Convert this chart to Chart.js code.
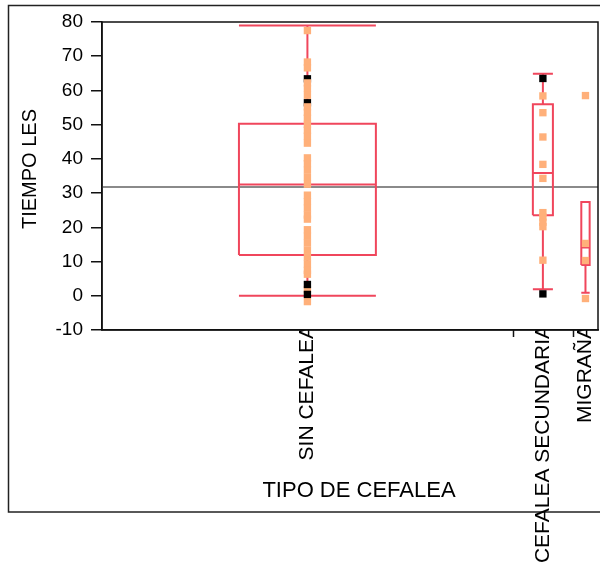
<!DOCTYPE html>
<html>
<head>
<meta charset="utf-8">
<script src="https://cdn.jsdelivr.net/npm/chart.js@4.4.1/dist/chart.umd.min.js"></script>
<style>
  html, body { margin: 0; padding: 0; background: #fff; }
  #wrap { width: 600px; height: 568px; }
</style>
</head>
<body>
<div id="wrap"><canvas id="chart"></canvas></div>
<script>
// groups along x, width of each group is proportional to its size
const categories = ['SIN CEFALEA', 'CEFALEA SECUNDARIA', 'MIGRAÑA'];
const groupSizes = [82, 12, 5];

// box plot summaries per group
const q1 = [11.9, 23.5, 9.0];
const medians = [32.5, 35.9, 14.1];
const q3 = [50.3, 56.0, 27.4];
const whiskerLow = [0, 1.9, 0.9];
const whiskerHigh = [79.0, 64.9, 27.4];
const grandMean = 31.8;

// observed points (orange) and highlighted rows (black)
const pointsSin = [77.5, 68.3, 66.6, 62.2, 60.6, 58.6, 55.2, 53.6, 51.9, 50.1, 48.4, 46.6, 44.6,
                   40.3, 38.6, 36.7, 34.6, 32.6, 29.4, 27.5, 25.6, 23.6, 22.4,
                   19.3, 17.4, 15.4, 13.3, 11.3, 9.3, 7.4, 6.3, 1.8, -1.7];
const markedSin = [63.4, 56.4, 3.3, 0.4];
const pointsSec = [58.4, 53.5, 46.4, 38.4, 34.3, 24.3, 23.0, 21.5, 20.2, 10.4];
const markedSec = [63.5, 0.55];
const pointsMig = [58.5, 15.3, 10.3, -0.8];
const markedMig = [];

const yMin = -10, yMax = 80, yStep = 10;
const xTitle = 'TIPO DE CEFALEA';
const yTitle = 'TIEMPO LES';

const RED = '#F0465C';
const ORANGE = '#FFB07A';
const FONT = '"Liberation Sans", Arial, sans-serif';

// group layout on a linear x axis
const total = groupSizes.reduce((a, b) => a + b, 0);
const starts = [];
const centers = [];
let acc = 0;
groupSizes.forEach(n => { starts.push(acc); centers.push(acc + n / 2); acc += n; });

function boxPath(i) {
  const c = centers[i], h = groupSizes[i] / 6;
  const l = c - h, r = c + h;
  const gap = { x: c, y: null };
  return [
    { x: l, y: q1[i] }, { x: r, y: q1[i] }, { x: r, y: q3[i] }, { x: l, y: q3[i] }, { x: l, y: q1[i] }, gap,
    { x: l, y: medians[i] }, { x: r, y: medians[i] }, gap,
    { x: c, y: q3[i] }, { x: c, y: whiskerHigh[i] }, gap,
    { x: l, y: whiskerHigh[i] }, { x: r, y: whiskerHigh[i] }, gap,
    { x: c, y: q1[i] }, { x: c, y: whiskerLow[i] }, gap,
    { x: l, y: whiskerLow[i] }, { x: r, y: whiskerLow[i] }
  ];
}

const toXY = (vals, i) => vals.map(v => ({ x: centers[i], y: v }));
const orangePts = [pointsSin, pointsSec, pointsMig].flatMap(toXY);
const blackPts = [markedSin, markedSec, markedMig].flatMap(toXY);
// rows near zero were plotted after the orange ones, the others before
const blackFront = blackPts.filter(p => p.y < 5);
const blackBack = blackPts.filter(p => p.y >= 5);

const pointStyle = { pointStyle: 'rect', pointRadius: 5.2, pointBorderWidth: 0, showLine: false };

const datasets = [
  { data: blackFront, backgroundColor: '#000', ...pointStyle },
  { data: orangePts, backgroundColor: ORANGE, ...pointStyle },
  { data: blackBack, backgroundColor: '#000', ...pointStyle },
  ...categories.map((_, i) => ({
    data: boxPath(i), showLine: true, borderColor: RED, borderWidth: 2,
    pointRadius: 0, spanGaps: false
  })),
  { data: [{ x: 0, y: grandMean }, { x: total, y: grandMean }], showLine: true,
    borderColor: '#8a8a8a', borderWidth: 2, pointRadius: 0 }
];

const framePlugin = {
  id: 'frames',
  beforeDraw(chart) {
    const ctx = chart.ctx;
    ctx.save();
    ctx.strokeStyle = '#222';
    ctx.lineWidth = 1.5;
    ctx.strokeRect(8.5, 5.5, 640, 506.5);
    ctx.restore();
  },
  afterDraw(chart) {
    const { ctx, chartArea: a, scales: { x } } = chart;
    ctx.save();
    ctx.strokeStyle = '#111';
    ctx.lineWidth = 1.5;
    ctx.strokeRect(a.left, a.top, a.right - a.left, a.bottom - a.top);
    // group separators under the axis
    starts.slice(1).forEach(s => {
      const px = Math.round(x.getPixelForValue(s)) + 0.5;
      ctx.beginPath();
      ctx.moveTo(px, a.bottom);
      ctx.lineTo(px, a.bottom + 7);
      ctx.stroke();
    });
    // axis titles
    ctx.fillStyle = '#000';
    ctx.textAlign = 'center';
    ctx.textBaseline = 'middle';
    ctx.font = '22px ' + FONT;
    ctx.fillText(xTitle, 359, 491);
    ctx.translate(30, 169);
    ctx.rotate(-Math.PI / 2);
    ctx.font = '20px ' + FONT;
    ctx.fillText(yTitle, 0, 0);
    ctx.restore();
  }
};

new Chart(document.getElementById('chart'), {
  type: 'scatter',
  data: { datasets },
  options: {
    responsive: true,
    maintainAspectRatio: false,
    animation: false,
    layout: { autoPadding: false, padding: { top: 22, right: 2, left: 10, bottom: 0 } },
    plugins: { legend: { display: false }, tooltip: { enabled: false } },
    scales: {
      x: {
        type: 'linear',
        min: 0,
        max: total,
        afterBuildTicks: s => { s.ticks = centers.map(v => ({ value: v })); },
        afterFit: s => { s.height = 238; s.paddingLeft = 0; s.paddingRight = 0; },
        grid: { display: false, drawTicks: false },
        border: { display: true, color: '#111', width: 1.5 },
        ticks: {
          autoSkip: false,
          minRotation: 90,
          maxRotation: 90,
          padding: -5,
          color: '#000',
          font: { family: FONT, size: 21 },
          callback: (v, i) => categories[i]
        }
      },
      y: {
        min: yMin,
        max: yMax,
        afterFit: s => { s.width = 92; },
        grid: { drawOnChartArea: false, drawTicks: true, tickLength: 11, color: '#111', lineWidth: 1.5 },
        border: { display: true, color: '#111', width: 1.5 },
        ticks: {
          stepSize: yStep,
          padding: 8,
          color: '#000',
          font: { family: FONT, size: 19 }
        }
      }
    }
  },
  plugins: [framePlugin]
});
</script>
</body>
</html>
